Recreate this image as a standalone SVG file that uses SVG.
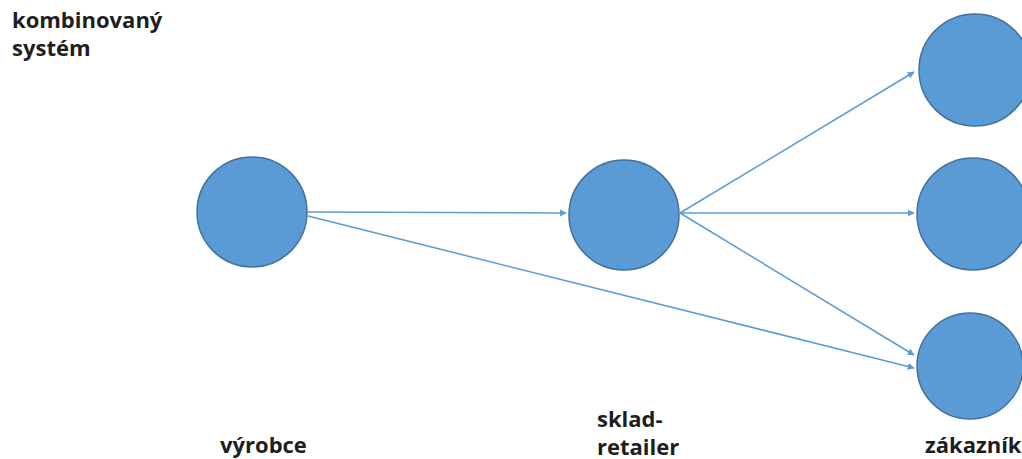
<svg xmlns="http://www.w3.org/2000/svg" width="1022" height="459" viewBox="0 0 1022 459">
<style>
.n{fill:#5b9bd5;stroke:#41719c;stroke-width:1.5}
.c{stroke:#5b9bd5;stroke-width:1.5;fill:none;marker-end:url(#a)}
.t{font-family:"Open Sans","Liberation Sans",sans-serif;font-weight:bold;font-size:22px;fill:#1e1e1e}
</style>
<defs>
<marker id="a" viewBox="0 0 10 10" refX="9" refY="5" markerWidth="7" markerHeight="7" orient="auto" markerUnits="userSpaceOnUse">
<path d="M0,0 L10,5 L0,10 z" fill="#5b9bd5"/>
</marker>
</defs>
<rect width="1022" height="459" fill="#fff"/>
<text class="t" x="12" y="28">kombinovaný</text>
<text class="t" x="12" y="56">systém</text>
<g id="vyrobce"><circle class="n" cx="252" cy="212" r="55"/><text class="t" x="220" y="453">výrobce</text></g>
<g id="sklad"><circle class="n" cx="624" cy="215" r="55"/><text class="t" x="597" y="427">sklad-</text><text class="t" x="597" y="455">retailer</text></g>
<g id="z1"><circle class="n" cx="975" cy="70" r="56"/></g>
<g id="z2"><circle class="n" cx="973" cy="214" r="56"/></g>
<g id="z3"><circle class="n" cx="970" cy="366" r="53"/><text class="t" x="925" y="453">zákazník</text></g>
<g id="connectors">
<line class="c" x1="308" y1="212" x2="566" y2="213"/>
<line class="c" x1="308" y1="216" x2="914" y2="368"/>
<line class="c" x1="680" y1="213" x2="914" y2="72"/>
<line class="c" x1="680" y1="213" x2="914" y2="213"/>
<line class="c" x1="680" y1="213" x2="914" y2="355"/>
</g>
</svg>
